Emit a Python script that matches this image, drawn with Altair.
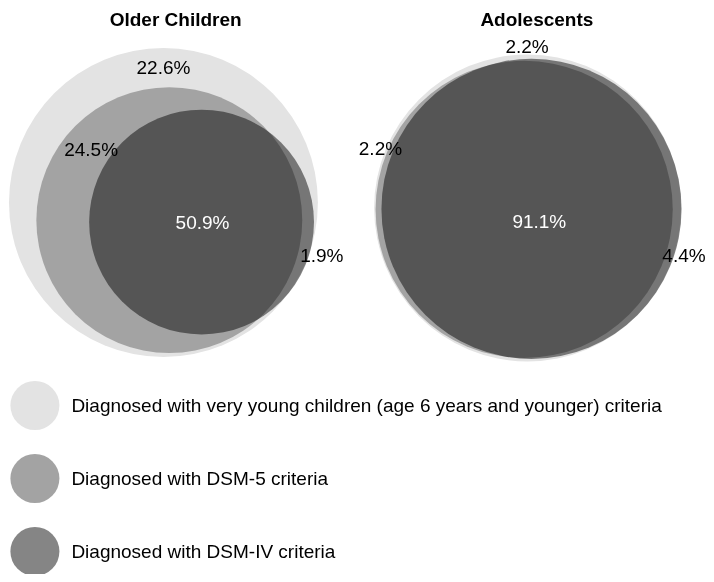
import altair as alt
import pandas as pd

# ---------------- data ----------------
panels = ["Older Children", "Adolescents"]
sets = [
    "Diagnosed with very young children (age 6 years and younger) criteria",
    "Diagnosed with DSM-5 criteria",
    "Diagnosed with DSM-IV criteria",
]
set_colors = ["#e3e3e3", "#a3a3a3", "#858585"]

# Venn circles (diagram units): panel, set, centre and radius
circle_panel = ["Older Children"] * 3 + ["Adolescents"] * 3
circle_set = sets + sets
circle_cx = [159, 165, 198, 531.5, 528, 535.5]
circle_cy = [201, 219, 221, 206.5, 208, 207.5]
circle_r = [158, 136, 115, 157, 152, 153.5]

# region percentages and where they sit in the diagram
region_panel = ["Older Children"] * 4 + ["Adolescents"] * 4
region_pct = [22.6, 24.5, 50.9, 1.9, 2.2, 2.2, 91.1, 4.4]
region_x = [159, 85, 199, 321, 531, 381, 543.5, 691.5]
region_y = [70, 153, 228, 262, 48, 152, 227, 262]

# panel titles
title_x = [171.5, 541]
title_y = [20, 20]

# ---------------- tables ----------------
circles = pd.DataFrame({"panel": circle_panel, "set": circle_set,
                        "cx": circle_cx, "cy": circle_cy, "r": circle_r})
regions = pd.DataFrame({"panel": region_panel, "pct": region_pct,
                        "x": region_x, "y": region_y})
titles = pd.DataFrame({"panel": panels, "x": title_x, "y": title_y})

FONT = "Liberation Sans"
xs = alt.Scale(domain=[0, 714], nice=False, zero=False)
ys = alt.Scale(domain=[2, 581], nice=False, zero=False, reverse=True)
size_scale = alt.Scale(type="pow", exponent=2, domain=[0, 714], range=[0, 698 ** 2])

color = alt.Color(
    "set:N",
    scale=alt.Scale(domain=sets, range=set_colors),
    legend=alt.Legend(
        title=None, orient="none", legendX=2.4, legendY=373,
        direction="vertical", symbolType="circle", symbolSize=2401,
        symbolStrokeWidth=0, symbolOpacity=1, labelFontSize=19,
        labelFont=FONT, labelColor="black", labelLimit=700,
        labelOffset=12, rowPadding=24, padding=0,
    ),
)

circ_enc = dict(
    x=alt.X("cx:Q", scale=xs, axis=None),
    y=alt.Y("cy:Q", scale=ys, axis=None),
    size=alt.Size("d:Q", scale=size_scale, legend=None),
    color=color,
)

base_circles = (
    alt.Chart(circles)
    .transform_calculate(d="2 * datum.r")
    .transform_filter(alt.datum.set != sets[2])
    .mark_circle(opacity=1, strokeWidth=0)
    .encode(**circ_enc)
)

dsm4_circles = (
    alt.Chart(circles)
    .transform_calculate(d="2 * datum.r")
    .transform_filter(alt.datum.set == sets[2])
    .mark_circle(opacity=1, strokeWidth=0, blend="multiply")
    .encode(**circ_enc)
)

labels = (
    alt.Chart(regions)
    .transform_calculate(label="format(datum.pct, '.1f') + '%'")
    .mark_text(font=FONT, fontSize=19, align="center", baseline="alphabetic")
    .encode(
        x=alt.X("x:Q", scale=xs, axis=None),
        y=alt.Y("y:Q", scale=ys, axis=None),
        text="label:N",
        color=alt.condition("datum.pct > 50", alt.value("white"), alt.value("black")),
    )
)

title_text = (
    alt.Chart(titles)
    .mark_text(font=FONT, fontSize=19, fontWeight="bold", align="center",
               baseline="alphabetic", color="black")
    .encode(
        x=alt.X("x:Q", scale=xs, axis=None),
        y=alt.Y("y:Q", scale=ys, axis=None),
        text="panel:N",
    )
)

chart = (
    alt.layer(base_circles, dsm4_circles, labels, title_text)
    .properties(width=698, height=566, padding=0,
                autosize=alt.AutoSizeParams(type="none"), background="white")
    .configure_view(strokeWidth=0)
)

chart.save("out.html", embed_options={"renderer": "svg", "actions": False})
